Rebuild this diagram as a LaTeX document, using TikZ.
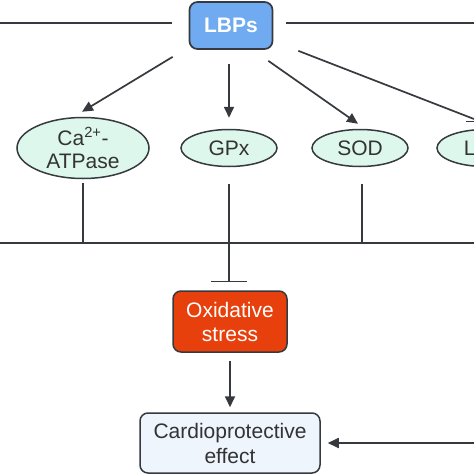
\documentclass[tikz,border=0pt]{standalone}
\usepackage{fontspec}
\setmainfont{Liberation Sans}
\usetikzlibrary{shapes.geometric,arrows.meta,calc}
\definecolor{linec}{HTML}{363A3E}
\definecolor{lbpfill}{HTML}{70AAF0}
\definecolor{ellfill}{HTML}{DDF7EC}
\definecolor{oxfill}{HTML}{E8400C}
\definecolor{cardfill}{HTML}{EEF5FC}
\definecolor{textc}{HTML}{333333}
\tikzset{
  conn/.style={draw=linec, line width=1.7pt},
  arr/.style={conn, -{Triangle[length=11pt,width=10pt]}},
  inh/.style={conn, -{Bar[width=36pt,line width=1.7pt]}},
  ell/.style={ellipse, draw=linec, line width=1.5pt, fill=ellfill, inner sep=0pt,
    font=\fontsize{21}{23}\selectfont, text=textc, align=center},
  lbpbox/.style={draw=linec, line width=1.7pt, fill=lbpfill, rounded corners=8pt,
    minimum width=83pt, minimum height=47pt, font=\fontsize{21}{24}\selectfont\bfseries, text=white},
  oxbox/.style={draw=linec, line width=1.5pt, fill=oxfill, rounded corners=8pt,
    minimum width=114pt, minimum height=61pt, font=\fontsize{21}{24}\selectfont, text=white, align=center},
  cardbox/.style={draw=linec, line width=1.5pt, fill=cardfill, rounded corners=8pt,
    minimum width=180pt, minimum height=60pt, font=\fontsize{21}{25}\selectfont, text=textc, align=center}
}
\begin{document}
\begin{tikzpicture}[x=1pt,y=-1pt]
\useasboundingbox (0,0) rectangle (474,474);
\clip (0,0) rectangle (474,474);
\fill[white] (0,0) rectangle (474,474);

\node[lbpbox] (lbp) at (231,25.5) {LBPs};
\node[ell, minimum width=132pt, minimum height=61pt] (ca) at (83,148) {Ca\textsuperscript{2+}-\\ATPase};
\node[ell, minimum width=96pt, minimum height=37pt] (gpx) at (229,148) {GPx};
\node[ell, minimum width=96pt, minimum height=37pt] (sod) at (360,148) {SOD};
\node[ell, minimum width=96pt, minimum height=37pt] (lel) at (485,148) {L\phantom{DH}};
\node[oxbox] (ox) at (230,321.5) {Oxidative\\stress};
\node[cardbox] (card) at (230,443) {Cardioprotective\\effect};

% edge coordinates
\coordinate (tl) at (0,23);
\coordinate (tr) at (474,23);
\coordinate (ml) at (0,243);
\coordinate (mr) at (474,243);
\coordinate (rin) at (474,443);
\coordinate (jca) at (83,243);
\coordinate (jgpx) at (229,243);
\coordinate (jsod) at (362,243);
\coordinate (lend) at (474,119);

% top line
\draw[conn] (tl) -- ($(lbp.west)+(-17,-2.5)$);
\draw[conn] ($(lbp.east)+(13,-2.5)$) -- (tr);

% arrows from LBPs
\draw[arr] ($(lbp.south west)+(-16,7)$) -- ($(ca.north)+(-1,-5)$);
\draw[arr] ($(lbp.south)+(-2,14)$) -- ($(gpx.north)+(0,-11)$);
\draw[arr] ($(lbp.south east)+(-5,11)$) -- ($(sod.north)+(-2,-5)$);
\draw[conn] ($(lbp.south east)+(25,1)$) -- (lend);
\draw[conn] (466,121.5) -- (474,121.5);

% vertical lines
\draw[conn] ($(ca.south)+(0,4)$) -- (jca);
\draw[conn] ($(gpx.south)+(0,17)$) -- (jgpx);
\draw[conn] ($(sod.south)+(2,17)$) -- (jsod);
\draw[conn] (ml) -- (mr);
\draw[inh] (jgpx) -- ($(ox.north)+(-1,-8)$);

% lower arrows
\draw[arr] ($(ox.south)+(0,8)$) -- ($(card.north)+(0,-5)$);
\draw[arr] (rin) -- ($(card.east)+(7,0)$);
\end{tikzpicture}
\end{document}
